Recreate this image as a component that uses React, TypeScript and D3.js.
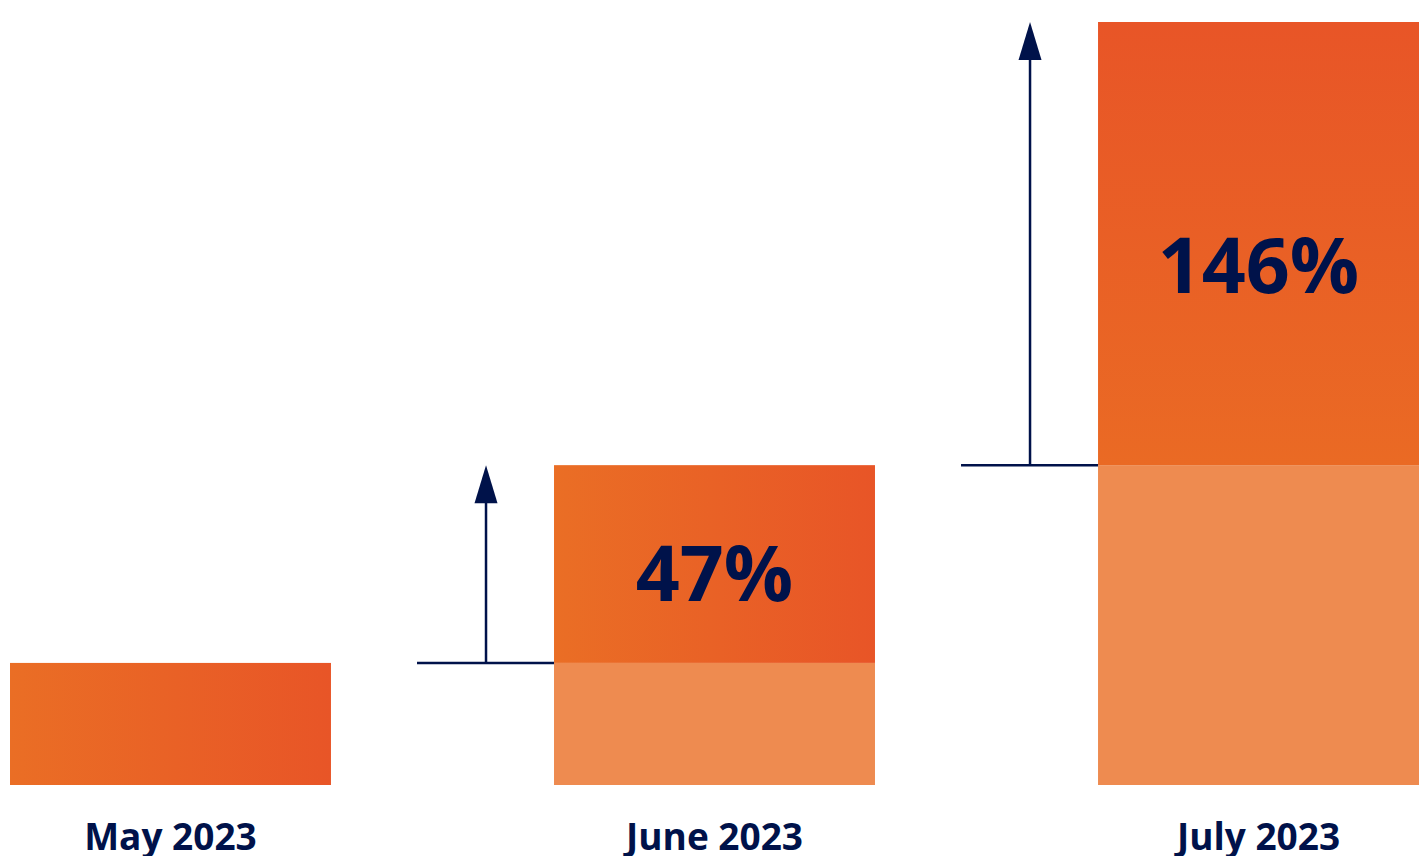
import React from "react";
import * as d3 from "d3";

const categories = ["May 2023", "June 2023", "July 2023"];
const baseValues = [100, 100, 262];
const increaseValues = [0, 162, 363];
const changeLabels = ["", "47%", "146%"];

const W = 1425;
const H = 856;
const NAVY = "#00124A";
const LIGHT = "#EE8B50";

export default function App() {
  const x = d3.scaleBand<string>().domain(categories).range([10, 1419]).paddingInner(0.41).paddingOuter(0);
  const maxTotal = d3.max(categories.map((_, i) => baseValues[i] + increaseValues[i])) as number;
  const y = d3.scaleLinear().domain([0, maxTotal]).range([785, 22]);
  const bw = x.bandwidth();
  const font = "'Open Sans', 'Noto Sans', sans-serif";

  return (
    <svg width={W} height={H} style={{ position: "absolute", left: 0, top: 0, display: "block" }}>
      <defs>
        <linearGradient id="gH" x1="0" y1="0" x2="1" y2="0">
          <stop offset="0" stopColor="#EA6E25" />
          <stop offset="1" stopColor="#E85527" />
        </linearGradient>
        <linearGradient id="gV" x1="0" y1="0" x2="0" y2="1">
          <stop offset="0" stopColor="#E85527" />
          <stop offset="1" stopColor="#EA6A24" />
        </linearGradient>
      </defs>
      {categories.map((c, i) => {
        const x0 = x(c) as number;
        const base = baseValues[i];
        const inc = increaseValues[i];
        const yBaseTop = y(base);
        const yTop = y(base + inc);
        const cx = x0 + bw / 2;
        return (
          <g key={c}>
            {inc === 0 ? (
              <rect x={x0} y={yBaseTop} width={bw} height={y(0) - yBaseTop} fill="url(#gH)" />
            ) : (
              <>
                <rect x={x0} y={yBaseTop} width={bw} height={y(0) - yBaseTop} fill={LIGHT} />
                <rect x={x0} y={yTop} width={bw} height={yBaseTop - yTop} fill={i === 2 ? "url(#gV)" : "url(#gH)"} />
                <line x1={x0 - 137} x2={x0} y1={yBaseTop} y2={yBaseTop} stroke={NAVY} strokeWidth={2.5} />
                <line x1={x0 - 68} x2={x0 - 68} y1={yBaseTop} y2={yTop + 30} stroke={NAVY} strokeWidth={2.5} />
                <path
                  d={`M${x0 - 68},${yTop} L${x0 - 79.5},${yTop + 38} L${x0 - 56.5},${yTop + 38} Z`}
                  fill={NAVY}
                />
                <text
                  x={cx}
                  y={yTop + 0.55 * (yBaseTop - yTop) + 27.5}
                  textAnchor="middle"
                  fontFamily={font}
                  fontWeight={700}
                  fontSize={77}
                  fill={NAVY}
                >
                  {changeLabels[i]}
                </text>
              </>
            )}
            <text
              x={cx}
              y={850}
              textAnchor="middle"
              fontFamily={font}
              fontWeight={700}
              fontSize={37}
              fill={NAVY}
            >
              {c}
            </text>
          </g>
        );
      })}
    </svg>
  );
}
